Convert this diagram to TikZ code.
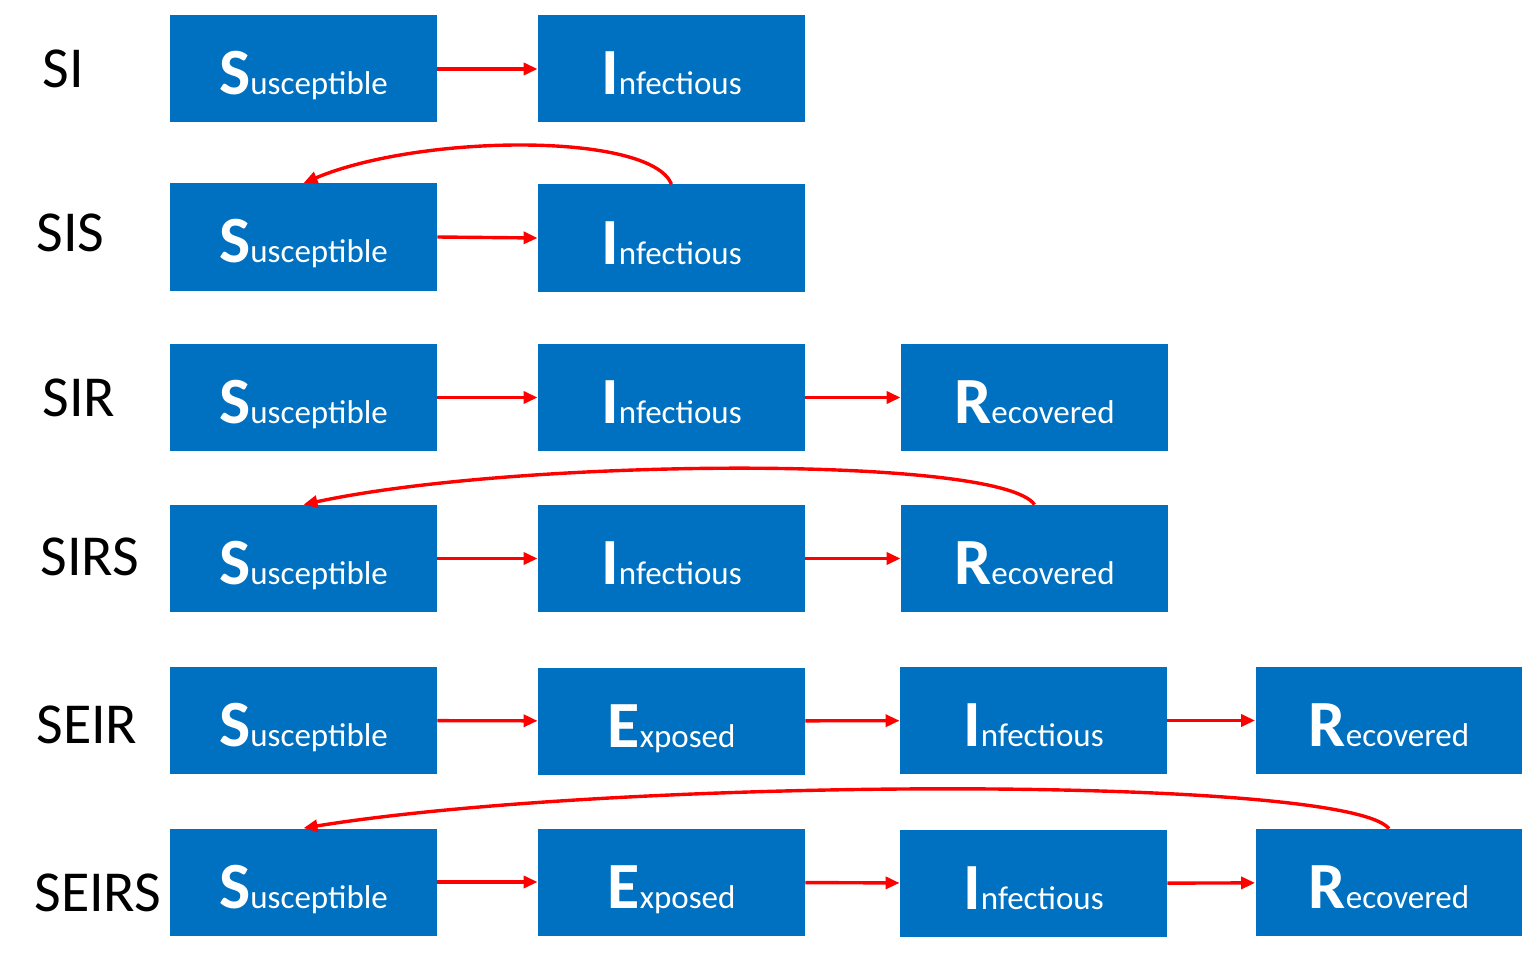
\documentclass[tikz,border=0pt]{standalone}
\usepackage{fontspec}
\setmainfont{Carlito}
\usetikzlibrary{arrows.meta}
\definecolor{boxblue}{HTML}{0070C0}
\definecolor{arrred}{HTML}{FF0000}
\tikzset{
  comp/.style={fill=boxblue, draw=none, inner sep=0pt, minimum width=133.5pt, minimum height=53.5pt,
    text height=26pt, text depth=0pt, text=white, align=center},
  model/.style={anchor=base west, inner sep=0pt, font=\fontsize{29}{30}\selectfont},
  flow/.style={draw=arrred, line width=1.7pt, -{Triangle[length=7pt,width=6pt]}},
}
\newcommand{\comptxt}[2]{{\fontsize{33}{34}\selectfont\bfseries #1}{\fontsize{16.5}{18}\selectfont #2}}
\begin{document}
\begin{tikzpicture}[x=0.5pt,y=-0.5pt]
\useasboundingbox (0,0) rectangle (1522,974);
% labels
\node[model] (l1) at (42,88) {SI};
\node[model] (l2) at (36,251) {SIS};
\node[model] (l3) at (42,416) {SIR};
\node[model] (l4) at (40,575) {SIRS};
\node[model] (l5) at (36,743) {SEIR};
\node[model] (l6) at (34,911) {SEIRS};
% row 1
\node[comp] (s1) at (303.5,69) {\comptxt{S}{usceptible}};
\node[comp] (i1) at (671.5,69) {\comptxt{I}{nfectious}};
\draw[flow] (s1) -- (i1);
% row 2
\node[comp] (s2) at (303.5,237) {\comptxt{S}{usceptible}};
\node[comp] (i2) at (671.5,238) {\comptxt{I}{nfectious}};
\draw[flow] (s2.east) -- (i2.west);
\draw[flow] (i2.north) .. controls (650,132) and (420,134) .. (s2.north);
% row 3
\node[comp] (s3) at (303.5,397.5) {\comptxt{S}{usceptible}};
\node[comp] (i3) at (671.5,397.5) {\comptxt{I}{nfectious}};
\node[comp] (r3) at (1034.5,397.5) {\comptxt{R}{ecovered}};
\draw[flow] (s3) -- (i3);
\draw[flow] (i3) -- (r3);
% row 4
\node[comp] (s4) at (303.5,558.5) {\comptxt{S}{usceptible}};
\node[comp] (i4) at (671.5,558.5) {\comptxt{I}{nfectious}};
\node[comp] (r4) at (1034.5,558.5) {\comptxt{R}{ecovered}};
\draw[flow] (s4) -- (i4);
\draw[flow] (i4) -- (r4);
\draw[flow] (r4.north) .. controls (1000,455) and (520,458) .. (s4.north);
% row 5
\node[comp] (s5) at (303.5,720.5) {\comptxt{S}{usceptible}};
\node[comp] (e5) at (671.5,721) {\comptxt{E}{xposed}};
\node[comp] (i5) at (1033.5,720.5) {\comptxt{I}{nfectious}};
\node[comp] (r5) at (1389,720.5) {\comptxt{R}{ecovered}};
\draw[flow] (s5) -- (e5);
\draw[flow] (e5) -- (i5);
\draw[flow] (i5) -- (r5);
% row 6
\node[comp] (s6) at (303.5,882) {\comptxt{S}{usceptible}};
\node[comp] (e6) at (671.5,882) {\comptxt{E}{xposed}};
\node[comp] (i6) at (1033.5,883.5) {\comptxt{I}{nfectious}};
\node[comp] (r6) at (1389,882.5) {\comptxt{R}{ecovered}};
\draw[flow] (s6) -- (e6);
\draw[flow] (e6) -- (i6);
\draw[flow] (i6) -- (r6);
\draw[flow] (r6.north) .. controls (1345,775) and (620,777) .. (s6.north);
\end{tikzpicture}
\end{document}
